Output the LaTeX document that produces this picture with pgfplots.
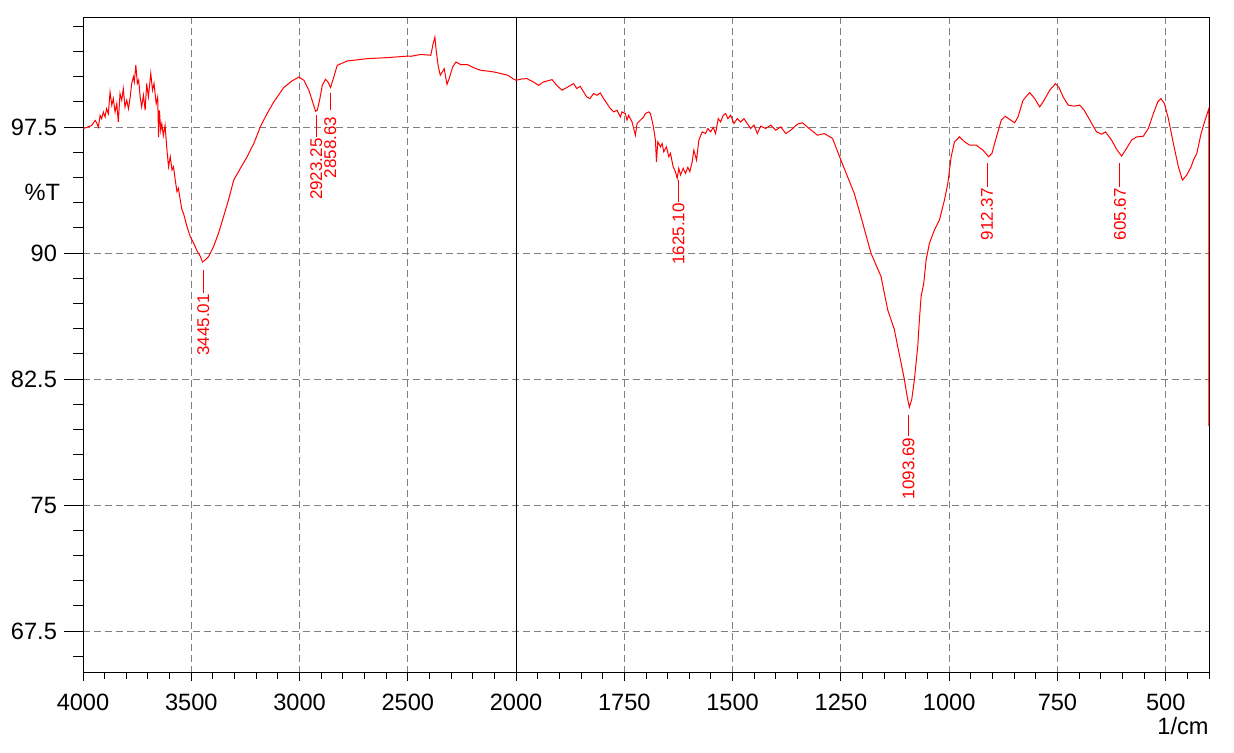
\documentclass[border=0pt]{standalone}
\usepackage{fontspec}
\setmainfont{Liberation Sans}
\usepackage{pgfplots}
\usepackage{pgfplotstable}
\pgfplotsset{compat=1.18}
\pgfplotstableread{
w T
4000 97.42
3983 97.48
3960 97.60
3944 97.90
3937 97.76
3929 97.50
3921 98.20
3914 98.00
3906 98.40
3898 98.10
3891 98.60
3883 98.30
3875 99.60
3867 98.80
3860 99.20
3852 98.40
3844 98.90
3837 97.80
3829 99.50
3821 99.10
3814 99.80
3806 98.70
3798 99.10
3790 98.60
3782 99.30
3775 100.10
3767 100.50
3763 100.20
3756 101.20
3749 100.10
3743 100.30
3736 99.30
3729 98.70
3721 99.40
3713 98.50
3706 100.10
3698 99.30
3687 100.70
3679 99.70
3672 100.10
3662 98.90
3655 99.30
3651 96.90
3647 98.50
3641 97.30
3636 97.70
3629 97.00
3621 97.60
3613 96.24
3605 95.14
3597 95.74
3589 94.95
3582 95.14
3574 94.35
3566 93.66
3559 93.86
3551 93.17
3543 92.57
3536 92.38
3520 91.58
3505 90.99
3489 90.59
3474 90.15
3458 89.80
3448 89.47
3435 89.60
3420 89.80
3397 90.39
3374 91.19
3351 92.17
3328 93.17
3304 94.35
3273 95.05
3242 95.74
3211 96.53
3181 97.52
3150 98.31
3119 99.00
3073 99.86
3035 100.25
3003 100.49
2980 100.29
2957 99.70
2942 99.10
2926 98.45
2918 98.51
2906 99.20
2895 99.99
2880 100.35
2869 100.19
2857 99.86
2844 100.39
2826 101.18
2780 101.44
2687 101.58
2594 101.64
2502 101.73
2486 101.72
2440 101.83
2394 101.78
2383 102.47
2375 102.86
2369 102.07
2360 101.18
2350 100.59
2341 100.78
2332 100.98
2319 100.05
2309 100.39
2293 101.08
2278 101.38
2255 101.22
2224 101.22
2193 101.02
2162 100.88
2131 100.84
2100 100.78
2069 100.69
2038 100.59
2015 100.39
2000 100.29
1987 100.37
1975 100.39
1960 100.19
1948 99.99
1937 100.19
1917 100.33
1906 99.99
1894 99.70
1883 99.86
1867 100.09
1860 99.80
1852 99.93
1844 99.60
1837 99.30
1829.6 99.20
1821.1 99.50
1813.4 99.40
1805.6 99.54
1797.9 99.20
1790.2 98.91
1782.4 98.61
1774.7 98.41
1767 98.51
1759.3 98.11
1755.4 98.41
1747.7 98.31
1743.9 97.92
1740.1 98.21
1732.2 97.81
1724.5 97.02
1720.6 97.72
1713 97.92
1705.3 98.11
1701.4 98.31
1693.7 98.41
1689.8 98.31
1683.6 97.62
1678.2 96.73
1675.9 95.44
1672.8 96.63
1666.7 96.33
1662.8 96.53
1659 96.03
1652.8 96.33
1647.4 95.74
1643.5 95.94
1637.3 95.14
1632 94.85
1628.1 94.45
1624.3 95.05
1620.4 94.65
1614.2 95.05
1608.8 94.75
1603.4 95.11
1598.8 94.85
1593.4 95.44
1589.5 96.13
1583.3 95.54
1578 96.73
1570.2 97.22
1562.5 97.12
1557.2 97.42
1551 97.22
1544.8 97.48
1539.4 97.12
1533.2 98.01
1527.8 97.81
1521.6 98.21
1516.2 98.31
1510.9 98.01
1504.6 98.21
1497 97.72
1489.3 98.01
1481.5 97.81
1473.9 98.01
1458.3 97.42
1450.7 97.62
1443 97.12
1435.2 97.56
1423.6 97.42
1412 97.62
1400.5 97.32
1388.9 97.52
1377.3 97.12
1365.7 97.32
1350.3 97.68
1338.7 97.76
1323.3 97.42
1304 97.02
1288.6 97.12
1269.3 96.83
1250 95.54
1234.6 94.55
1219.2 93.56
1203.7 92.17
1180.6 90.00
1157.4 88.61
1142 86.63
1126.6 85.45
1118.9 84.45
1111.1 83.47
1103.4 82.48
1097.2 81.48
1091.9 80.83
1086.4 81.29
1080.2 82.48
1076.4 83.47
1072.5 84.45
1068.7 86.04
1064.8 87.42
1058.6 88.22
1053.2 89.60
1045.5 90.59
1034 91.38
1022.4 91.98
1010.8 93.17
1003.1 94.16
995.4 95.74
987.7 96.63
976.1 96.92
964.5 96.63
953 96.43
937.5 96.43
922 96.13
909 95.74
901.2 95.94
895.1 96.53
887.4 97.22
879.6 97.92
870.4 98.15
860.4 97.96
848.8 97.76
841 98.11
829.4 99.10
814.1 99.56
802.5 99.20
791 98.71
780.9 99.10
767.8 99.70
754.6 100.09
746.9 99.89
736.8 99.30
725.2 98.81
711.4 98.75
698.4 98.81
688.3 98.51
675.2 97.92
659.7 97.22
648.1 97.08
638.9 97.22
625 96.73
613.4 96.18
601.9 95.78
590.3 96.24
578.7 96.73
567.1 96.92
551.7 96.96
540.1 97.42
528.5 98.31
518.5 99.00
510.9 99.20
503.1 98.91
493.8 98.01
482.3 96.53
470.7 95.14
461.5 94.35
451.4 94.65
441.4 95.14
436 95.54
428.2 95.94
418.3 97.12
409.1 97.92
400.2 98.61
400.1 79.70
}\spectrum
\begin{document}
\begin{tikzpicture}
\begin{axis}[name=a, scale only axis, width=563pt, height=327.5pt,
  xmin=0, xmax=5200, ymin=65, ymax=104,
  clip=false,
  axis line style={black, line width=0.5pt},
  xtick={0,500,1000,1500,2000,2500,3000,3500,4000,4500,5000},
  xticklabels={4000,3500,3000,2500,2000,1750,1500,1250,1000,750,500},
  minor xtick={100,200,...,5200},
  ytick={67.5,75,82.5,90,97.5},
  yticklabels={67.5,75,82.5,90,97.5},
  minor ytick={66,69,70.5,72,73.5,76.5,78,79.5,81,84,85.5,87,88.5,91.5,93,94.5,96,99,100.5,102,103.5},
  xtick pos=bottom, ytick pos=left,
  tick align=outside,
  major tick length=9.5pt, minor tick length=5pt,
  xtick style={/pgfplots/major tick length=4pt, /pgfplots/minor tick length=3pt},
  tick style={black, line width=0.5pt},
  xmajorgrids, ymajorgrids,
  major grid style={gray, dash pattern=on 3.5pt off 2pt, line width=0.5pt},
  ticklabel style={font=\fontsize{11.8}{14}\selectfont},
  xticklabel style={yshift=2.5pt},
]
\draw[black, line width=0.5pt] (axis cs:2000,65) -- (axis cs:2000,104);
\addplot[red, line width=0.5pt, no marks] table[x expr={4000-\thisrow{w}+max(0,2000-\thisrow{w})}, y=T] {\spectrum};
% annotations
\tikzset{pk/.style={red, line width=0.5pt}, pl/.style={red, rotate=90, anchor=east, inner sep=0.5pt, font=\fontsize{8.5}{10}\selectfont}}
\draw[pk] (axis cs:555,89.0) -- (axis cs:555,87.64);
\node[pl] at (axis cs:555,87.64) {3445.01};
\draw[pk] (axis cs:1076.75,98.21) -- (axis cs:1076.75,96.91);
\node[pl] at (axis cs:1076.75,96.91) {2923.25};
\draw[pk] (axis cs:1141.37,99.52) -- (axis cs:1141.37,98.51);
\node[pl] at (axis cs:1141.37,98.21) {2858.63};
\draw[pk] (axis cs:2749.8,94.35) -- (axis cs:2749.8,93.05);
\node[pl] at (axis cs:2749.8,93.05) {1625.10};
\draw[pk] (axis cs:3812.6,80.34) -- (axis cs:3812.6,79.09);
\node[pl] at (axis cs:3812.6,79.09) {1093.69};
\draw[pk] (axis cs:4175.3,95.36) -- (axis cs:4175.3,93.94);
\node[pl] at (axis cs:4175.3,93.94) {912.37};
\draw[pk] (axis cs:4788.7,95.36) -- (axis cs:4788.7,93.94);
\node[pl] at (axis cs:4788.7,93.94) {605.67};
\node[anchor=east, font=\fontsize{11.8}{14}\selectfont, inner sep=0pt] at ([xshift=-11.25pt]rel axis cs:0,0.733) {\%T};
\node[anchor=east, font=\fontsize{11.8}{14}\selectfont, inner sep=0pt] at ([yshift=-26.5pt]rel axis cs:1,0) {1/cm};
\path (rel axis cs:0,0) ++(-41.5pt,-40pt);
\path (rel axis cs:1,1) ++(12.5pt,9pt);
\end{axis}
\end{tikzpicture}
\end{document}
